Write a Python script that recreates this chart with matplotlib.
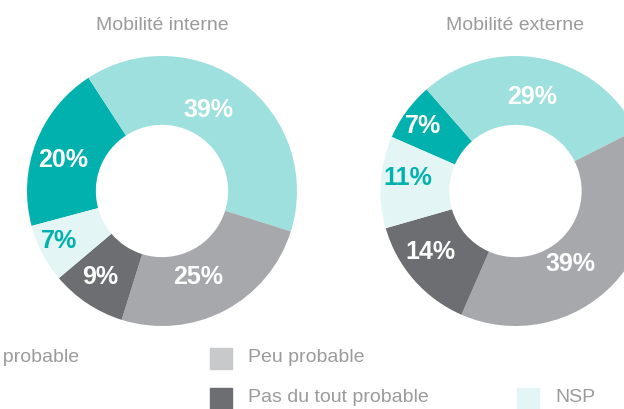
import numpy as np
import matplotlib
matplotlib.use("Agg")
import matplotlib.pyplot as plt
from matplotlib.patches import Rectangle

plt.rcParams['font.family'] = ['Liberation Sans', 'DejaVu Sans']

categories = ["Très probable", "Assez probable", "Peu probable", "Pas du tout probable", "NSP"]
interne = [20, 39, 25, 9, 7]
externe = [7, 29, 39, 14, 11]
titles = ["Mobilité interne", "Mobilité externe"]

colors = ["#00b1ad", "#9de0de", "#a7a8ab", "#6d6e71", "#e3f5f5"]
legend_colors = ["#00b1ad", "#9de0de", "#c8c9cb", "#6d6e71", "#e3f5f5"]
label_colors = ["white", "white", "white", "white", "#00b1ad"]
title_color = "#9b9b9b"

W, H = 624, 409
fig = plt.figure(figsize=(W / 100, H / 100), dpi=100)

R = 135  # outer radius in px


def donut(cx, cy, values, start, label_r, label_shift, title):
    ax = fig.add_axes([(cx - R) / W, (H - cy - R) / H, 2 * R / W, 2 * R / H])
    wedges, _ = ax.pie(values, colors=colors, startangle=start, counterclock=False,
                       radius=1, wedgeprops=dict(width=0.51, linewidth=0))
    for w, v, r, d, c in zip(wedges, values, label_r, label_shift, label_colors):
        ang = np.deg2rad((w.theta1 + w.theta2) / 2 + d)
        ax.text(r * np.cos(ang), r * np.sin(ang), f"{v}%", ha="center", va="center",
                fontsize=18, fontweight="bold", color=c)
    ax.set_xlim(-1, 1)
    ax.set_ylim(-1, 1)
    ax.set_aspect("equal")
    ax.axis("off")
    fig.text(cx / W, 1 - 26 / H, title, ha="center", va="center",
             fontsize=14, color=title_color)


donut(162, 191, interne, 195,
      [0.77, 0.69, 0.69, 0.785, 0.85], [3.7, 7.5, -4.9, -2.2, -1.8], titles[0])
donut(515.5, 191, externe, 156.4,
      [0.84, 0.71, 0.68, 0.775, 0.80], [1.1, 1.1, -9.6, -5.2, -3.1], titles[1])

# legend, laid out in a grid (partly outside the visible area)
legend_pos = {1: (-94, 358), 2: (210, 358), 3: (210, 398), 4: (517, 398)}
for i, (px, py) in legend_pos.items():
    fig.patches.append(Rectangle((px / W, 1 - (py + 10.5) / H), 22 / W, 21 / H,
                                 transform=fig.transFigure, color=legend_colors[i]))
    fig.text((px + 38) / W, 1 - py / H, categories[i], ha="left", va="center",
             fontsize=14, color=title_color)

fig.savefig("out.png", dpi=100)
